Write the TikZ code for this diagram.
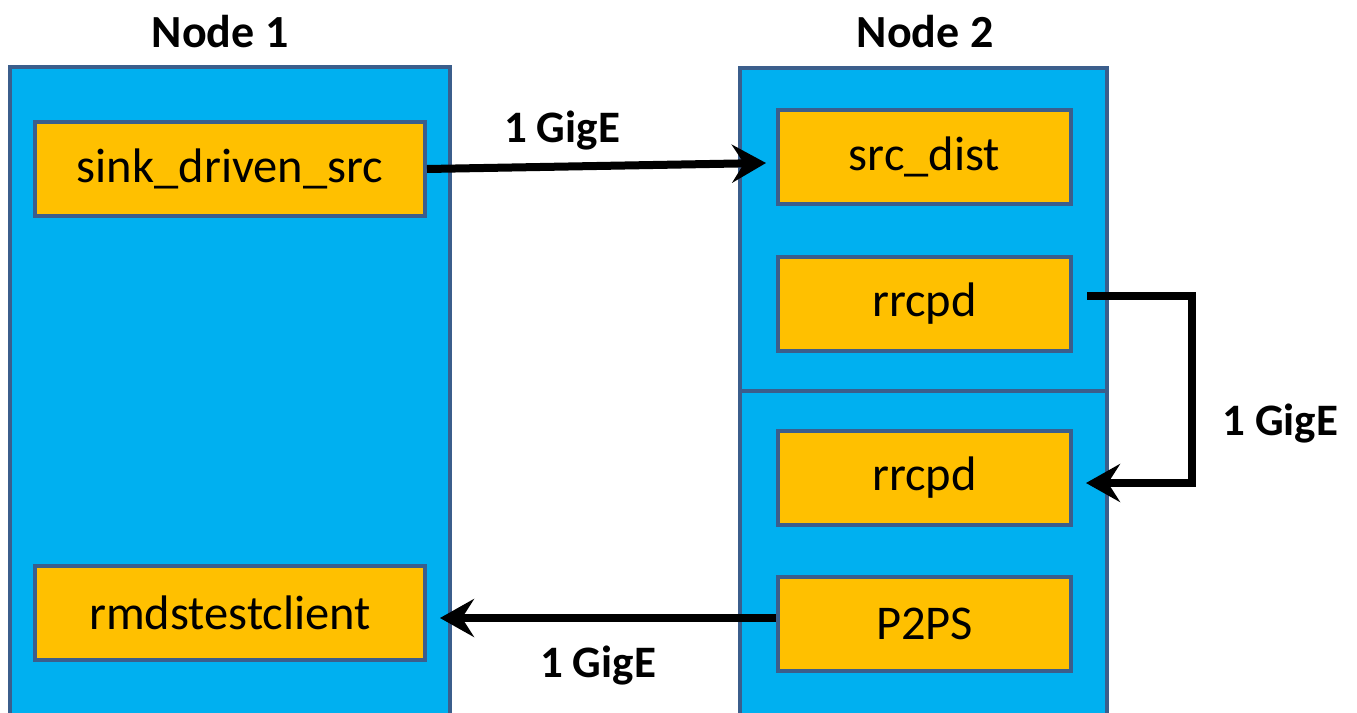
\documentclass[tikz,border=0pt]{standalone}
\usepackage{fontspec}
\setmainfont{Carlito}
\usetikzlibrary{arrows.meta}
\definecolor{nodeblue}{HTML}{00B0F0}
\definecolor{edgeblue}{HTML}{3B5E8C}
\definecolor{procorange}{HTML}{FFC000}
\begin{document}
\begin{tikzpicture}[x=1pt,y=-1pt,
  outbox/.style={draw=edgeblue,fill=nodeblue,line width=4pt,inner sep=0pt},
  inbox/.style={draw=edgeblue,fill=procorange,line width=4pt,inner sep=0pt,
    minimum width=293pt,minimum height=94pt,font=\fontsize{48.5}{58}\selectfont},
  wideinbox/.style={inbox,minimum width=390pt},
  title/.style={font=\fontsize{46}{55}\selectfont\bfseries,anchor=base,inner sep=0pt},
  linklabel/.style={font=\fontsize{45}{54}\selectfont\bfseries,anchor=base,inner sep=0pt},
  conn/.style={line width=8pt,-{Stealth[length=34pt,width=38pt,inset=12pt]}}]
\useasboundingbox (0,0) rectangle (1357,712);

% machine outlines
\node[outbox,minimum width=440pt,minimum height=653pt] (n1) at (230,393.5) {};
\node[outbox,minimum width=367pt,minimum height=323pt] (n2a) at (923.5,229.5) {};
\node[outbox,minimum width=367pt,minimum height=329pt] (n2b) at (923.5,555.5) {};

% titles
\node[title] (t1) at (220,47) {Node 1};
\node[title] (t2) at (925,47) {Node 2};

% processes
\node[wideinbox] (sds) at (230,169) {sink\_driven\_src};
\node[wideinbox] (rmds) at (230,613) {rmdstestclient};
\node[inbox] (srcd) at (924.5,157) {src\_dist};
\node[inbox] (rr1) at (924.5,304) {rrcpd};
\node[inbox] (rr2) at (924.5,478) {rrcpd};
\node[inbox] (p2ps) at (924.5,624) {P2PS};

% links
\draw[conn] (sds.east) -- ([shift={(-10pt,-6pt)}]srcd.west);
\draw[conn] ([shift={(14pt,8pt)}]rr1.east) -- ++(105,0) |- ([shift={(13pt,-5pt)}]rr2.east);
\draw[conn] ([yshift=6pt]p2ps.west) -- ([shift={(13pt,-5pt)}]rmds.east);

% link labels
\node[linklabel] (l1) at (562,142) {1 GigE};
\node[linklabel] (l2) at (1280,435) {1 GigE};
\node[linklabel] (l3) at (598,677) {1 GigE};
\end{tikzpicture}
\end{document}
